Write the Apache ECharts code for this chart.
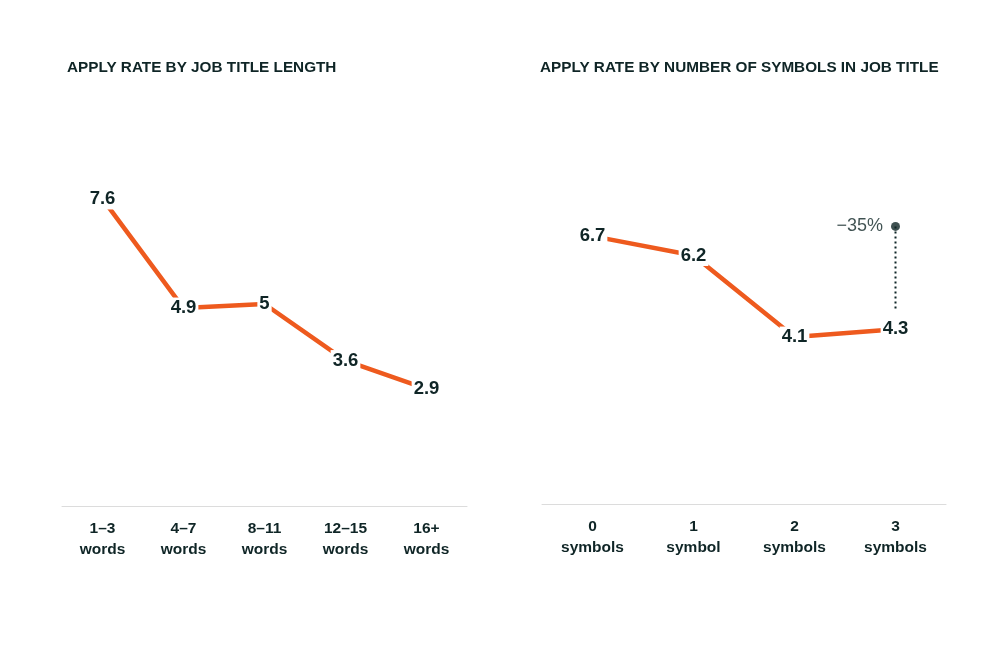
<!DOCTYPE html>
<html><head><meta charset="utf-8">
<script src="https://cdn.jsdelivr.net/npm/echarts@6/dist/echarts.min.js"></script>
<style>html,body{margin:0;padding:0;background:#fff}#c{width:1000px;height:667px}</style>
</head><body><div id="c"></div>
<script>
var lengthCategories = ['1–3\nwords', '4–7\nwords', '8–11\nwords', '12–15\nwords', '16+\nwords'];
var lengthValues = [7.6, 4.9, 5, 3.6, 2.9];
var symbolCategories = ['0\nsymbols', '1\nsymbol', '2\nsymbols', '3\nsymbols'];
var symbolValues = [6.7, 6.2, 4.1, 4.3];
var annotationLine = [[3, 6.95], [3, 4.77]];
var annotationDot = [[3, 6.95]];
var annotationText = '−35%';

var DARK = '#0f2526', ORANGE = '#ee5a1e', FONT = 'Liberation Sans, Arial, Helvetica, sans-serif';
var chart = echarts.init(document.getElementById('c'));
function xAxis(i, cats) {
  return {type: 'category', gridIndex: i, data: cats, boundaryGap: true,
    axisLine: {onZero: false, lineStyle: {color: '#dcdcdc', width: 1}},
    axisTick: {show: false},
    axisLabel: {color: DARK, fontFamily: FONT, fontWeight: 'bold', fontSize: 15.5, lineHeight: 21, margin: 12}};
}
function yAxis(i, min, max) {
  return {type: 'value', gridIndex: i, min: min, max: max, show: false, splitLine: {show: false}};
}
var lbl = {show: true, position: 'inside', color: DARK, fontFamily: FONT, fontWeight: 'bold', fontSize: 18.5,
  backgroundColor: '#fff', padding: [1, 2]};
chart.setOption({
  animation: false,
  title: [
    {text: 'APPLY RATE BY JOB TITLE LENGTH', left: 67, top: 60, padding: 0, textStyle: {color: DARK, fontFamily: FONT, fontWeight: 'bold', fontSize: 15.3}},
    {text: 'APPLY RATE BY NUMBER OF SYMBOLS IN JOB TITLE', left: 540, top: 60, padding: 0, textStyle: {color: DARK, fontFamily: FONT, fontWeight: 'bold', fontSize: 15.3}}
  ],
  grid: [
    {left: 62, width: 405, top: 102, height: 404},
    {left: 542, width: 404, top: 108, height: 396}
  ],
  xAxis: [xAxis(0, lengthCategories), xAxis(1, symbolCategories)],
  yAxis: [yAxis(0, 0, 10), yAxis(1, -0.2, 10)],
  series: [
    {type: 'line', xAxisIndex: 0, yAxisIndex: 0, data: lengthValues, symbol: 'circle', symbolSize: 0.1,
      lineStyle: {color: ORANGE, width: 4.5}, itemStyle: {color: ORANGE}, label: lbl, z: 3},
    {type: 'line', xAxisIndex: 1, yAxisIndex: 1, data: symbolValues, symbol: 'circle', symbolSize: 0.1,
      lineStyle: {color: ORANGE, width: 4.5}, itemStyle: {color: ORANGE}, label: lbl, z: 3},
    {type: 'line', xAxisIndex: 1, yAxisIndex: 1, data: annotationLine, symbol: 'none',
      lineStyle: {color: DARK, width: 2, type: [2, 3]}, z: 2},
    {type: 'scatter', xAxisIndex: 1, yAxisIndex: 1, data: annotationDot, symbolSize: 9,
      itemStyle: {color: DARK}, z: 4,
      label: {show: true, position: 'left', distance: 8, formatter: annotationText, color: DARK,
        fontFamily: FONT, fontSize: 18}}
  ]
});
</script></body></html>
